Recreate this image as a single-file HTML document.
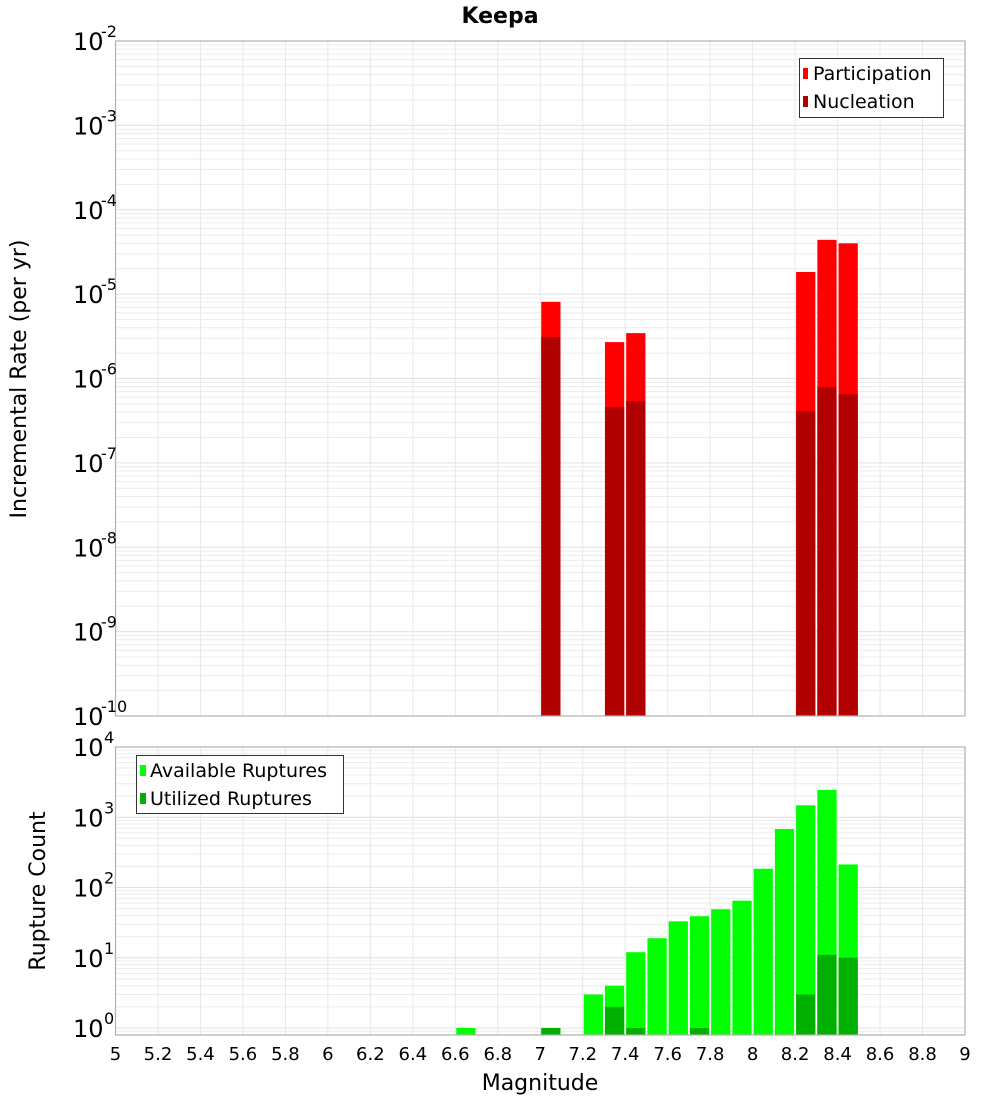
<!DOCTYPE html>
<html><head><meta charset="utf-8"><style>
html,body{margin:0;padding:0;background:#fff;}
svg{display:block;font-family:"DejaVu Sans","Liberation Sans",sans-serif;}
</style></head><body>
<svg id="chart" width="1000" height="1100" xmlns="http://www.w3.org/2000/svg"></svg>
<script>
// ---- data ----
const binStarts = [7.0, 7.3, 7.4, 8.2, 8.3, 8.4];
const participation = [8.1e-6, 2.7e-6, 3.45e-6, 1.83e-5, 4.4e-5, 4.0e-5];
const nucleation = [3.1e-6, 4.6e-7, 5.4e-7, 4.1e-7, 7.9e-7, 6.5e-7];
const countBins = [6.6, 7.0, 7.2, 7.3, 7.4, 7.5, 7.6, 7.7, 7.8, 7.9, 8.0, 8.1, 8.2, 8.3, 8.4];
const available = [1, 1, 3, 4, 12, 19, 33, 39, 49, 65, 185, 680, 1480, 2450, 213];
const utilized = [0, 1, 0, 2, 1, 0, 0, 1, 0, 0, 0, 0, 3, 11, 10];
const xTicks = ["5","5.2","5.4","5.6","5.8","6","6.2","6.4","6.6","6.8","7","7.2","7.4","7.6","7.8","8","8.2","8.4","8.6","8.8","9"];
const topExps = [-2,-3,-4,-5,-6,-7,-8,-9,-10];
const botExps = [4,3,2,1,0];
const binWidth = 0.1;

const NS = "http://www.w3.org/2000/svg";
const svg = document.getElementById('chart');
function mk(tag, attrs, parent){const e=document.createElementNS(NS,tag);for(const k in attrs)e.setAttribute(k,attrs[k]);(parent||svg).appendChild(e);return e;}

const L=115.5, R=965;
const xS = m => L + (m-5)/(9-5)*(R-L);
// top panel
const T1=41, B1=716;
const yTop = v => T1 + (-2 - Math.log10(v))*(B1-T1)/8;
// bottom panel
const T2=747, B2=1035;
const dec2 = 70.25;
const yBot = v => 1028 - Math.log10(v)*dec2;

function grid(g, top, bottom, yfn, expLo, expHi){
  for(let e=expLo;e<expHi;e++){
    for(let k=1;k<10;k++){
      const y=yfn(k*Math.pow(10,e));
      if(y<top-0.1||y>bottom+0.1) continue;
      const ln=mk('line',{x1:L,x2:R,y1:y,y2:y,stroke:k===1?'#e0e0e0':'#ececec','stroke-width':1},g);
      
      
    }
  }
  xTicks.forEach(t=>{const x=xS(+t);const ln=mk('line',{x1:x,x2:x,y1:top,y2:bottom,stroke:'#e8e8e8','stroke-width':1},g);
    
    });
}

// title
const title=mk('text',{x:500,y:23,'text-anchor':'middle','font-size':22,'font-weight':'bold'});
title.textContent='Keepa';



// ---- top panel ----
const g1=mk('g',{});


grid(g1,T1,B1,yTop,-10,-2);
binStarts.forEach((m,i)=>{
  const x0=xS(m)+1, x1=xS(m+binWidth)-1;
  const p=mk('rect',{x:x0,y:yTop(participation[i]),width:x1-x0,height:B1-yTop(participation[i]),fill:'#ff0000'},g1);
  
  
  const n=mk('rect',{x:x0,y:yTop(nucleation[i]),width:x1-x0,height:B1-yTop(nucleation[i]),fill:'#b00000'},g1);
  
  
});
mk('rect',{x:L,y:T1,width:R-L,height:B1-T1,fill:'none',stroke:'#b0b0b0','stroke-width':1.2},g1);
topExps.forEach(e=>{
  const y=yTop(Math.pow(10,e));
  const t=mk('text',{x:73,y:y+9,'font-size':24});
  t.textContent='10';
  
  
  const s=mk('text',{x:101,y:y-4,'font-size':16});
  s.textContent=String(e);
  
  
});
const yt1=mk('text',{x:0,y:0,'font-size':22,'text-anchor':'middle',transform:'translate(26,379) rotate(-90)'});
yt1.textContent='Incremental Rate (per yr)';


// legend top
const lg1=mk('g',{});


mk('rect',{x:799.5,y:58.5,width:144,height:59,fill:'#fff',stroke:'#333','stroke-width':1},lg1);
mk('rect',{x:803,y:68,width:5,height:11,fill:'#ff0000'},lg1);
mk('rect',{x:803,y:96,width:5,height:11,fill:'#b00000'},lg1);
const lt1=mk('text',{x:813,y:80,'font-size':19},lg1);lt1.textContent='Participation';


const lt2=mk('text',{x:813,y:108,'font-size':19},lg1);lt2.textContent='Nucleation';



// ---- bottom panel ----
const g2=mk('g',{});


grid(g2,T2,B2,yBot,-1,4);
countBins.forEach((m,i)=>{
  const x0=xS(m)+1, x1=xS(m+binWidth)-1;
  if(available[i]>0){
    const a=mk('rect',{x:x0,y:yBot(available[i]),width:x1-x0,height:B2-yBot(available[i]),fill:'#00ff00'},g2);
    
    
  }
  if(utilized[i]>0){
    const u=mk('rect',{x:x0,y:yBot(utilized[i]),width:x1-x0,height:B2-yBot(utilized[i]),fill:'#00b000'},g2);
    
    
  }
});
mk('rect',{x:L,y:T2,width:R-L,height:B2-T2,fill:'none',stroke:'#b0b0b0','stroke-width':1.2},g2);
botExps.forEach(e=>{
  const y=yBot(Math.pow(10,e));
  const t=mk('text',{x:73,y:y+9,'font-size':24});
  t.textContent='10';
  
  
  const s=mk('text',{x:104,y:y-4,'font-size':16});
  s.textContent=String(e);
  
  
});
const yt2=mk('text',{x:0,y:0,'font-size':22,'text-anchor':'middle',transform:'translate(45,891) rotate(-90)'});
yt2.textContent='Rupture Count';


xTicks.forEach(t=>{
  const x=xS(+t);
  const tx=mk('text',{x:x,y:1060,'font-size':18,'text-anchor':'middle'});
  tx.textContent=t;
  
  
});
const xt=mk('text',{x:540,y:1090,'font-size':22,'text-anchor':'middle'});
xt.textContent='Magnitude';


// legend bottom
const lg2=mk('g',{});


mk('rect',{x:136.5,y:755.5,width:207,height:58,fill:'#fff',stroke:'#333','stroke-width':1},lg2);
mk('rect',{x:140,y:765,width:6,height:11,fill:'#00ff00'},lg2);
mk('rect',{x:140,y:793,width:6,height:11,fill:'#00b000'},lg2);
const lt3=mk('text',{x:150,y:777,'font-size':19},lg2);lt3.textContent='Available Ruptures';


const lt4=mk('text',{x:150,y:805,'font-size':19},lg2);lt4.textContent='Utilized Ruptures';


</script>
</body></html>
